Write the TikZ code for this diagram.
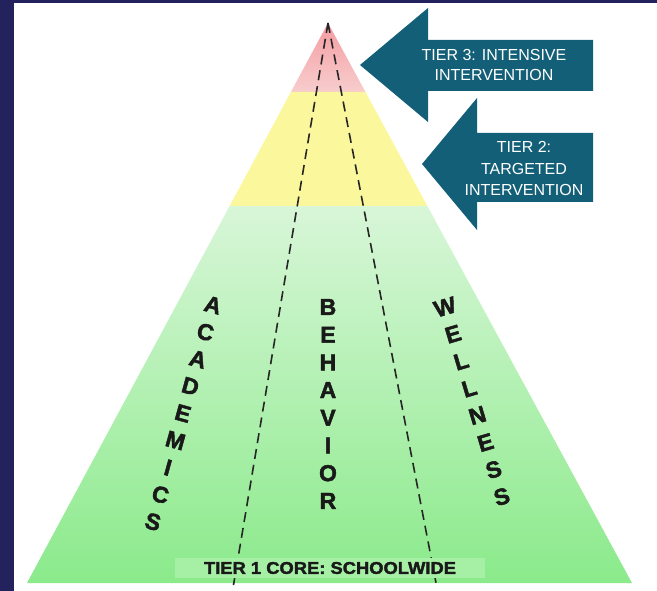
\documentclass[tikz,border=0pt]{standalone}
\usepackage{fontspec}
\setmainfont{Liberation Sans}
\newfontfamily\heavyfont[FakeBold=2]{Liberation Sans Bold}
\usetikzlibrary{calc}
\definecolor{framenavy}{HTML}{23225C}
\definecolor{arrowteal}{HTML}{135F78}
\definecolor{redtop}{HTML}{F39CA2}
\definecolor{redbot}{HTML}{F8CDCD}
\definecolor{bandyellow}{HTML}{FBF79C}
\definecolor{greentop}{HTML}{D8F6D8}
\definecolor{greenbot}{HTML}{8BEA8B}
\definecolor{labelgreen}{HTML}{A6F0A6}
\begin{document}
\begin{tikzpicture}[x=1pt,y=-1pt,
	letter/.style={font=\heavyfont\fontsize{23}{23}\selectfont,text=black!90,inner sep=0pt},
	tiertext/.style={text=white,align=center,inner sep=0pt},
	dashline/.style={line width=1.6pt,dash pattern=on 10pt off 6pt,black!85}]
	\useasboundingbox (0,0) rectangle (657,591);
	\fill[white] (0,0) rectangle (657,591);
	\fill[framenavy] (0,0) rectangle (14,591);
	\fill[framenavy] (0,0) rectangle (657,3);
	% pyramid
	\coordinate (apex) at (328,23);
	\coordinate (bl) at (27,583);
	\coordinate (br) at (632,583);
	\coordinate (rl) at ($(apex)!0.1232!(bl)$);
	\coordinate (rr) at ($(apex)!0.1232!(br)$);
	\coordinate (yl) at ($(apex)!0.3268!(bl)$);
	\coordinate (yr) at ($(apex)!0.3268!(br)$);
	\shade[top color=redtop,bottom color=redbot] (apex) -- (rl) -- (rr) -- cycle;
	\fill[bandyellow] (rl) -- (yl) -- (yr) -- (rr) -- cycle;
	\shade[top color=greentop,bottom color=greenbot] (yl) -- (bl) -- (br) -- (yr) -- cycle;
	\coordinate (dl) at (233,588);
	\coordinate (dr) at (437,588);
	\draw[dashline] (apex) -- (dl);
	\draw[dashline] (apex) -- (dr);
	% arrows
	\fill[arrowteal] (360,65) -- (428,8) -- (428,40) -- (593,40) -- (593,91)
		-- (428,91) -- (428,122) -- cycle;
	\fill[arrowteal] (422,164) -- (477,98) -- (477,133) -- (593,133) -- (593,202)
		-- (477,202) -- (477,230) -- cycle;
	\node[tiertext,font=\fontsize{16}{20}\selectfont] (tierthree) at (494,65)
		{TIER 3: INTENSIVE\\INTERVENTION};
	\node[tiertext,font=\fontsize{16}{21.5}\selectfont] (tiertwo) at (524,168.5)
		{TIER 2:\\TARGETED\\INTERVENTION};
	% columns
	\foreach \ch [count=\i from 0] in {A,C,A,D,E,M,I,C,S}
		\node[letter,rotate=-15.5] (acad\i) at ($(213,305)+\i*(-7.5,27.1)$) {\ch};
	\foreach \ch [count=\i from 0] in {B,E,H,A,V,I,O,R}
		\node[letter] (behav\i) at ($(328,307)+\i*(0,27.7)$) {\ch};
	\foreach \ch [count=\i from 0] in {W,E,L,L,N,E,S,S}
		\node[letter,rotate=16.6] (well\i) at ($(445,307)+\i*(8.1,27.1)$) {\ch};
	\node[fill=labelgreen,minimum width=310pt,minimum height=20pt,inner sep=0pt,
		text=black!90,font=\heavyfont\fontsize{17}{17}\selectfont] (tierone) at (330,568)
		{\scalebox{1.08}[1]{TIER 1 CORE: SCHOOLWIDE}};
\end{tikzpicture}
\end{document}
